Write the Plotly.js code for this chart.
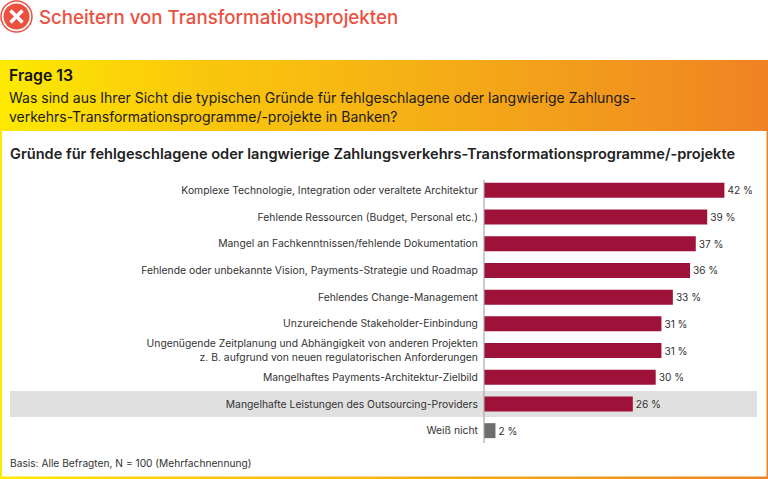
<!DOCTYPE html>
<html><head><meta charset="utf-8">
<script src="https://cdn.plot.ly/plotly-3.0.1.min.js"></script>
<style>
html,body{margin:0;padding:0;background:#fff;overflow:hidden}
#wrap{position:relative;width:768px;height:479px}
#bg{position:absolute;left:0;top:60px;width:768px;height:419px;background:linear-gradient(90deg,#fdea00 0%,#fac80c 25%,#f6b414 50%,#f29c1c 75%,#f08223 100%)}
#chart{position:absolute;left:0;top:0;width:768px;height:479px}
</style></head><body>
<div id="wrap"><div id="bg"></div><div id="chart"></div></div>
<script>
const categories = [
 "Komplexe Technologie, Integration oder veraltete Architektur",
 "Fehlende Ressourcen (Budget, Personal etc.)",
 "Mangel an Fachkenntnissen/fehlende Dokumentation",
 "Fehlende oder unbekannte Vision, Payments-Strategie und Roadmap",
 "Fehlendes Change-Management",
 "Unzureichende Stakeholder-Einbindung",
 "Ungenügende Zeitplanung und Abhängigkeit von anderen Projekten<br>z. B. aufgrund von neuen regulatorischen Anforderungen",
 "Mangelhaftes Payments-Architektur-Zielbild",
 "Mangelhafte Leistungen des Outsourcing-Providers",
 "Weiß nicht"
];
const values = [42,39,37,36,33,31,31,30,26,2];
const barColors = ["#9e1239","#9e1239","#9e1239","#9e1239","#9e1239","#9e1239","#9e1239","#9e1239","#9e1239","#6e6e6e"];
const W=768,H=479,L=484,R=753,T=177,B=444;
const FONT='Inter, Roboto, sans-serif';
const px=x=>(x-L)/(R-L), py=y=>(B-y)/(B-T);
const rect=(x0,y0,x1,y1,fill,layer)=>({type:'rect',xref:'paper',yref:'paper',x0:px(x0),x1:px(x1),y0:py(y0),y1:py(y1),fillcolor:fill,line:{width:0},layer:layer||'below'});
const seg=(x0,y0,x1,y1,color,w)=>({type:'line',xref:'paper',yref:'paper',x0:px(x0),x1:px(x1),y0:py(y0),y1:py(y1),line:{color:color,width:w},layer:'above'});
const label=(x,y,text,size,color,weight)=>({xref:'paper',yref:'paper',x:px(x),y:py(y),xanchor:'left',yanchor:'middle',showarrow:false,align:'left',text:text,font:{family:FONT,size:size,color:color,weight:weight||400}});
const shapes=[
 rect(0,0,768,60,'#ffffff'),
 rect(2,131,766.5,476.5,'#ffffff'),
 rect(10,391,757,417,'#e0e0e0'),
 seg(484,180,484,443,'#a8a8a8',1.2),
 {type:'circle',xref:'paper',yref:'paper',x0:px(1),x1:px(32),y0:py(1),y1:py(32),fillcolor:'#ffffff',line:{color:'#ec5140',width:1.5},layer:'above'},
 {type:'circle',xref:'paper',yref:'paper',x0:px(3.5),x1:px(29.5),y0:py(3.5),y1:py(29.5),fillcolor:'#ec5140',line:{width:0},layer:'above'},
 seg(10.5,10.5,22.5,22.5,'#ffffff',3.5),
 seg(22.5,10.5,10.5,22.5,'#ffffff',3.5)
];
const annotations=[
 label(37,17,'Scheitern von Transformationsprojekten',18.7,'#ec5140',500),
 label(7,75.5,'Frage 13',15.8,'#111111',600),
 label(7,98,'Was sind aus Ihrer Sicht die typischen Gründe für fehlgeschlagene oder langwierige Zahlungs-',14,'#1a1a1a',400),
 label(7,116.5,'verkehrs-Transformationsprogramme/-projekte in Banken?',14,'#1a1a1a',400),
 label(8,154,'Gründe für fehlgeschlagene oder langwierige Zahlungsverkehrs-Transformationsprogramme/-projekte',14.6,'#222222',600),
 label(8,462.5,'Basis: Alle Befragten, N = 100 (Mehrfachnennung)',10.2,'#333333',400)
];
Plotly.newPlot('chart',[{
 type:'bar',orientation:'h',y:categories,x:values,
 marker:{color:barColors,line:{color:'rgba(255,255,255,0)',width:0}},
 text:values.map(v=>v+' %'),textposition:'outside',cliponaxis:false,
 textfont:{family:FONT,size:10.1,color:'#333333'},hoverinfo:'skip'
}],{
 width:W,height:H,margin:{l:L,r:W-R,t:T,b:H-B,pad:0},
 paper_bgcolor:'rgba(0,0,0,0)',plot_bgcolor:'rgba(0,0,0,0)',
 bargap:0.44,showlegend:false,
 xaxis:{range:[0,47],visible:false,fixedrange:true},
 yaxis:{autorange:'reversed',showline:false,showgrid:false,zeroline:false,ticks:'outside',ticklen:3,tickcolor:'rgba(0,0,0,0)',tickfont:{family:FONT,size:10.35,color:'#333333'},fixedrange:true,automargin:false},
 shapes:shapes,annotations:annotations
},{displayModeBar:false,staticPlot:true});
</script></body></html>
